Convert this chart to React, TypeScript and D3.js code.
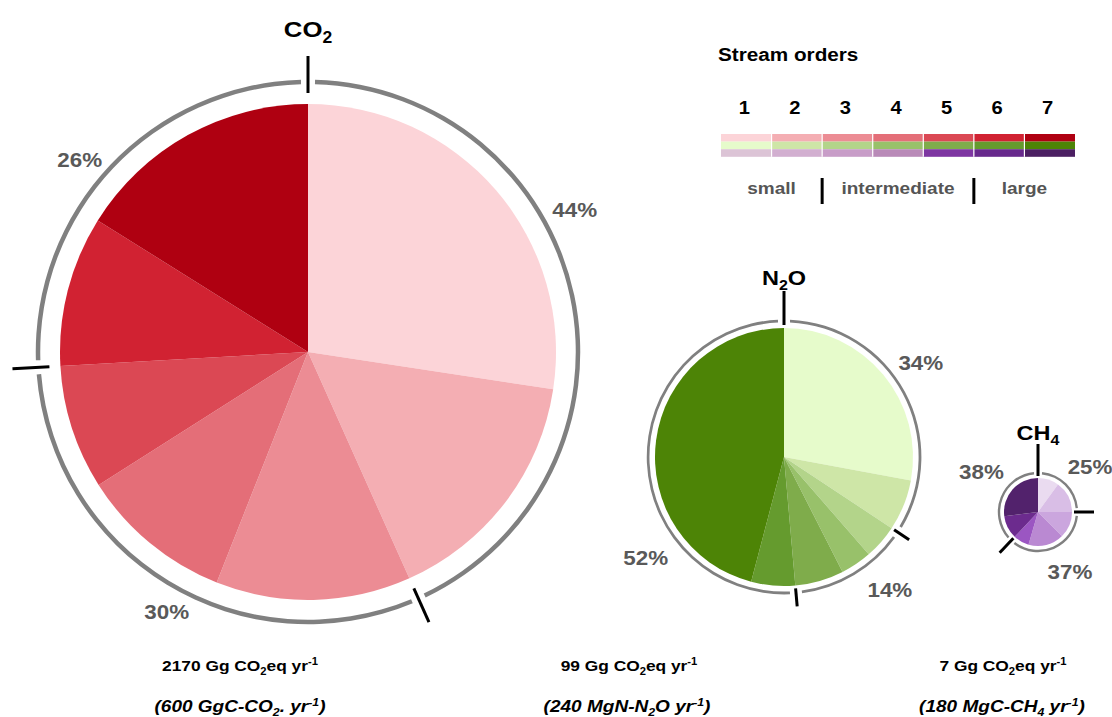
import React from 'react';
import * as d3 from 'd3';

// ---------- data ----------
const streamOrders = ['1', '2', '3', '4', '5', '6', '7'];
const sizeClasses = ['small', 'intermediate', 'large'];
const classOrderCount = [2, 3, 2]; // orders 1-2, 3-5, 6-7

const co2Shares = [27.4, 15.9, 12.7, 10.0, 8.1, 9.8, 16.1];
const n2oShares = [27.9, 6.4, 4.3, 3.9, 6.1, 5.5, 45.9];
const ch4Shares = [10, 15, 12.5, 17, 7.5, 11, 27];

const co2Labels = ['44%', '30%', '26%'];
const n2oLabels = ['34%', '14%', '52%'];
const ch4Labels = ['25%', '37%', '38%'];

const redColors = ['#FCD4D8', '#F4AEB3', '#EC8C94', '#E46E78', '#DB4854', '#D12232', '#AF0011'];
const greenColors = ['#E6FBCB', '#CEE6A7', '#B3D48A', '#98C16A', '#7FAC4B', '#659B2E', '#4D8406'];
const purplePie = ['#EADBF0', '#D9BEE6', '#CBA6DE', '#BA89D2', '#9B56C2', '#6C2B8E', '#52226C'];
const purpleLegend = ['#DCC4D6', '#D2AFD0', '#C89DC8', '#B98AB8', '#7E36A2', '#67298C', '#4B1F62'];

// ---------- layout ----------
const W = 1112;
const H = 717;
const deg = Math.PI / 180;
const SX = 1.12; // horizontal stretch of the lettering in the reference
const FONT = "'Liberation Sans', Arial, sans-serif";

type PieCfg = {
  title: [string, string, string];
  titleSize: number;
  shares: number[];
  colors: string[];
  labels: string[];
  cx: number; cy: number; r: number;
  ringR: number; ringW: number; gapPx: number;
  tickIn: number; tickOut: number; topTickOut: number; tickW: number;
  labelR: number[]; labelAng: number[];
  titleY: number;
  line1: [string, string, string, string];
  line2: [string, string, string, string];
  textX1: number; textX2: number;
};

const pies: PieCfg[] = [
  {
    title: ['CO', '2', ''], titleSize: 23, shares: co2Shares, colors: redColors, labels: co2Labels,
    cx: 308, cy: 352, r: 248, ringR: 270, ringW: 4.5, gapPx: 7,
    tickIn: 259, tickOut: 296, topTickOut: 296, tickW: 3,
    labelR: [302, 296, 298], labelAng: [62, 208.5, 310],
    titleY: 37,
    line1: ['2170 Gg CO', '2', 'eq yr', '-1'],
    line2: ['(600 GgC-CO', '2', '. yr', '-1'],
    textX1: 240, textX2: 240,
  },
  {
    title: ['N', '2', 'O'], titleSize: 21, shares: n2oShares, colors: greenColors, labels: n2oLabels,
    cx: 784, cy: 457, r: 129, ringR: 136, ringW: 2.8, gapPx: 6,
    tickIn: 132, tickOut: 150, topTickOut: 166, tickW: 3,
    labelR: [166, 170, 171], labelAng: [55.5, 141.5, 234],
    titleY: 285,
    line1: ['99 Gg CO', '2', 'eq yr', '-1'],
    line2: ['(240 MgN-N', '2', 'O yr', '-1'],
    textX1: 629, textX2: 627,
  },
  {
    title: ['CH', '4', ''], titleSize: 21, shares: ch4Shares, colors: purplePie, labels: ch4Labels,
    cx: 1038, cy: 512, r: 34, ringR: 39, ringW: 2.4, gapPx: 4,
    tickIn: 36, tickOut: 56, topTickOut: 68, tickW: 3,
    labelR: [69, 68, 69], labelAng: [49, 152, 305],
    titleY: 440,
    line1: ['7 Gg CO', '2', 'eq yr', '-1'],
    line2: ['(180 MgC-CH', '4', ' yr', '-1'],
    textX1: 1003, textX2: 1002,
  },
];

function polar(cx: number, cy: number, r: number, a: number): [number, number] {
  return [cx + r * Math.sin(a), cy - r * Math.cos(a)];
}

function SText(props: any) {
  const { x, y, children, ...rest } = props;
  return (
    <text transform={`translate(${x},${y}) scale(${SX},1)`} fontFamily={FONT} {...rest}>
      {children}
    </text>
  );
}

function Pie({ cfg }: { cfg: PieCfg }) {
  const arcs = d3.pie<number>().sort(null).value((d) => d).startAngle(0).endAngle(2 * Math.PI)(cfg.shares);
  const arcGen = d3.arc<d3.PieArcDatum<number>>().innerRadius(0).outerRadius(cfg.r);

  const bounds: number[] = [0];
  let idx = 0;
  classOrderCount.forEach((n) => {
    idx += n;
    bounds.push(arcs[idx - 1].endAngle);
  });
  const gap = cfg.gapPx / cfg.ringR;
  const ringArc = d3.arc<{ startAngle: number; endAngle: number }>()
    .innerRadius(cfg.ringR - cfg.ringW / 2)
    .outerRadius(cfg.ringR + cfg.ringW / 2);
  const ts = cfg.titleSize;

  return (
    <g>
      {arcs.map((a, i) => (
        <path key={i} d={arcGen(a) as string} transform={`translate(${cfg.cx},${cfg.cy})`} fill={cfg.colors[i]} />
      ))}
      {classOrderCount.map((_, g) => (
        <path key={'ring' + g}
          d={ringArc({ startAngle: bounds[g] + gap, endAngle: bounds[g + 1] - gap }) as string}
          transform={`translate(${cfg.cx},${cfg.cy})`} fill="#808080" />
      ))}
      {bounds.slice(0, 3).map((b, g) => {
        const [x1, y1] = polar(cfg.cx, cfg.cy, cfg.tickIn, b);
        const [x2, y2] = polar(cfg.cx, cfg.cy, g === 0 ? cfg.topTickOut : cfg.tickOut, b);
        return <line key={'t' + g} x1={x1} y1={y1} x2={x2} y2={y2} stroke="#000" strokeWidth={cfg.tickW} />;
      })}
      {cfg.labels.map((l, g) => {
        const [x, y] = polar(cfg.cx, cfg.cy, cfg.labelR[g], cfg.labelAng[g] * deg);
        return (
          <SText key={'l' + g} x={x} y={y} dy="0.35em" textAnchor="middle"
            fontWeight="bold" fontSize={20} fill="#595959">{l}</SText>
        );
      })}
      <SText x={cfg.cx} y={cfg.titleY} textAnchor="middle" fontWeight="bold" fontSize={ts} fill="#000">
        {cfg.title[0]}
        <tspan dy={ts * 0.25} fontSize={ts * 0.68}>{cfg.title[1]}</tspan>
        {cfg.title[2] ? <tspan dy={-ts * 0.25}>{cfg.title[2]}</tspan> : null}
      </SText>
      <SText x={cfg.textX1} y={671} textAnchor="middle" fontWeight="bold" fontSize={15.5} fill="#000">
        {cfg.line1[0]}
        <tspan dy={3.5} fontSize={10}>{cfg.line1[1]}</tspan>
        <tspan dy={-3.5}>{cfg.line1[2]}</tspan>
        <tspan dy={-6} fontSize={10}>{cfg.line1[3]}</tspan>
      </SText>
      <SText x={cfg.textX2} y={712} textAnchor="middle" fontWeight="bold" fontStyle="italic" fontSize={17} fill="#000">
        {cfg.line2[0]}
        <tspan dy={4} fontSize={11}>{cfg.line2[1]}</tspan>
        <tspan dy={-4}>{cfg.line2[2]}</tspan>
        <tspan dy={-6.5} fontSize={11}>{cfg.line2[3]}</tspan>
        <tspan dy={6.5}>)</tspan>
      </SText>
    </g>
  );
}

function Legend() {
  const x = d3.scaleBand<string>().domain(streamOrders).range([721, 1075]).paddingInner(0);
  const rows = [redColors, greenColors, purpleLegend];
  const rowH = 7.6;
  const y0 = 134;
  const starts: number[] = [];
  let acc = 0;
  classOrderCount.forEach((n) => { starts.push(acc); acc += n; });
  return (
    <g>
      <text x={718} y={61} fontFamily={FONT} fontWeight="bold" fontSize={18.5} fill="#000"
        transform={`translate(718,0) scale(${SX},1) translate(-718,0)`}>Stream orders</text>
      {streamOrders.map((o) => (
        <SText key={o} x={(x(o) as number) + x.bandwidth() / 2 - 2} y={114} textAnchor="middle" fontWeight="bold" fontSize={18} fill="#000">{o}</SText>
      ))}
      {rows.map((cols, r) =>
        streamOrders.map((o, i) => (
          <rect key={r + '-' + o} x={x(o) as number} y={y0 + r * rowH} width={x.bandwidth()} height={rowH} fill={cols[i]} />
        ))
      )}
      {streamOrders.slice(1).map((o) => (
        <line key={'s' + o} x1={x(o) as number} x2={x(o) as number} y1={y0} y2={y0 + 3 * rowH} stroke="#fff" strokeWidth={1.2} />
      ))}
      {sizeClasses.map((s, k) => {
        const a = x(streamOrders[starts[k]]) as number;
        const b = (x(streamOrders[starts[k] + classOrderCount[k] - 1]) as number) + x.bandwidth();
        return (
          <SText key={s} x={(a + b) / 2} y={194} textAnchor="middle" fontWeight="bold" fontSize={17} fill="#555">{s}</SText>
        );
      })}
      {starts.slice(1).map((st) => {
        const xx = x(streamOrders[st]) as number;
        return <line key={'b' + st} x1={xx} x2={xx} y1={178} y2={204} stroke="#000" strokeWidth={3} />;
      })}
    </g>
  );
}

export default function App() {
  return (
    <svg width={W} height={H} style={{ position: 'absolute', left: 0, top: 0, background: '#fff' }}>
      <rect x={0} y={0} width={W} height={H} fill="#fff" />
      {pies.map((p, i) => <Pie key={i} cfg={p} />)}
      <Legend />
    </svg>
  );
}
